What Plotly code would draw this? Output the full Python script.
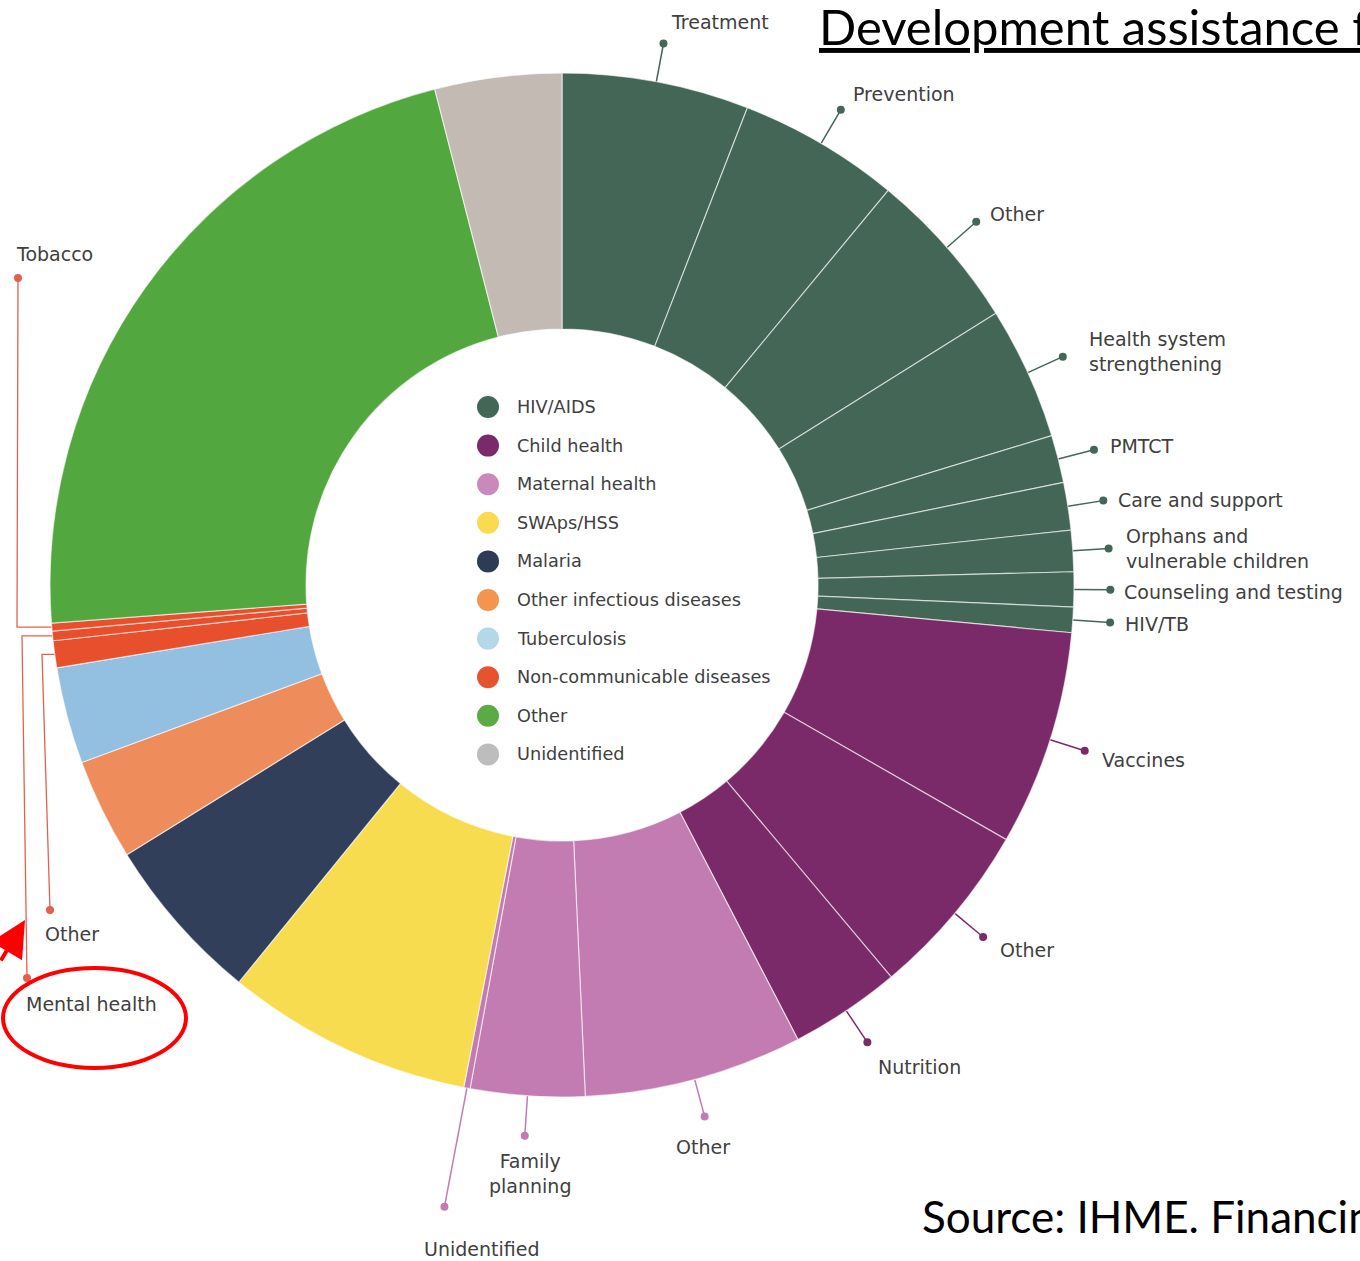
import math
import plotly.graph_objects as go

W, H = 1360, 1261

# Health focus areas (legend order)
areas = ["HIV/AIDS", "Child health", "Maternal health", "SWAps/HSS", "Malaria",
         "Other infectious diseases", "Tuberculosis", "Non-communicable diseases",
         "Other", "Unidentified"]
area_colors = ["#436657", "#7b2a69", "#c27cb1", "#f8dc50", "#313f5b",
               "#ef8c5c", "#93bfe1", "#e84f2d", "#53a73f", "#c3bab4"]
legend_colors = ["#436657", "#7b2a69", "#c98abb", "#fada4f", "#2e3b55",
                 "#f3954f", "#b3d8e8", "#e8532f", "#5bab45", "#bdbdbd"]

# Program areas, clockwise from 12 o'clock (share of total, %)
sub_labels = ["Treatment", "Prevention", "Other", "Health system<br>strengthening",
              "PMTCT", "Care and support", "Orphans and<br>vulnerable children",
              "Counseling and testing", "HIV/TB",
              "Vaccines", "Other", "Nutrition",
              "Other", "Family<br>planning", "Unidentified",
              "SWAps/HSS", "Malaria", "Other infectious diseases", "Tuberculosis",
              "Other", "Mental health", "Tobacco",
              "Other", "Unidentified"]
sub_area = [0] * 9 + [1] * 3 + [2] * 3 + [3, 4, 5, 6] + [7] * 3 + [8, 9]
sub_share = [5.9, 5.1, 5.1, 4.2, 1.5, 1.5, 1.3, 1.1, 0.8,
             6.8, 5.6, 3.5,
             6.9, 3.6, 0.2,
             7.8, 5.3, 3.2, 3.05,
             0.85, 0.3, 0.25,
             22.2, 4.0]

# Donut geometry in pixels (centre, outer radius)
CX, CY, R = 562, 585, 512
HOLE = 0.5

# Callouts: radial ones (dot radius in units of R, text offset from dot, anchor)
radial_callouts = {
    0: (1.076, 6, -22, "left"),
    1: (1.076, 10, -16, "left"),
    2: (1.076, 12, -8, "left"),
    3: (1.075, 24, -5, "left"),
    4: (1.072, 14, -4, "left"),
    5: (1.070, 13, -1, "left"),
    6: (1.070, 15, 0, "left"),
    7: (1.071, 12, 2, "left"),
    8: (1.073, 13, 2, "left"),
    9: (1.071, 15, 9, "left"),
    10: (1.072, 15, 13, "left"),
    11: (1.074, 9, 25, "left"),
    12: (1.075, -2, 30, "center"),
    13: (1.078, 5, 38, "center"),
    14: (1.236, 37, 42, "center"),
}
# Elbow callouts on the left: (elbow x, dot x, dot y, text dx, text dy)
elbow_callouts = {
    19: (42, 50, 910, -7, 24),
    20: (22, 27, 978, -3, 26),
    21: (17, 18, 278, -4, -24),
}

total = sum(sub_share)
cum = 0.0
mid_angle = []
for v in sub_share:
    mid_angle.append(360.0 * (cum + v / 2) / total)
    cum += v


def polar_px(theta_deg, r):
    t = math.radians(theta_deg)
    return CX + r * math.sin(t), CY - r * math.cos(t)


fig = go.Figure()

fig.add_trace(go.Pie(
    values=sub_share,
    labels=[f"{areas[a]} – {l}" for a, l in zip(sub_area, sub_labels)],
    marker=dict(colors=[area_colors[a] for a in sub_area],
                line=dict(color="rgba(255,255,255,0.6)", width=1.2)),
    sort=False, direction="clockwise", rotation=0, hole=HOLE,
    textinfo="none", hoverinfo="label+value", showlegend=False,
    domain=dict(x=[(CX - R) / W, (CX + R) / W], y=[(H - CY - R) / H, (H - CY + R) / H]),
))

label_font = dict(family="DejaVu Sans", size=19, color="#404040")
annotations = []

for i, (rd, tdx, tdy, anchor) in radial_callouts.items():
    col = area_colors[sub_area[i]]
    x0, y0 = polar_px(mid_angle[i], R)
    x1, y1 = polar_px(mid_angle[i], R * rd)
    fig.add_trace(go.Scatter(x=[x0, x1], y=[y0, y1], mode="lines",
                             line=dict(color=col, width=1.5), hoverinfo="skip",
                             showlegend=False))
    fig.add_trace(go.Scatter(x=[x1], y=[y1], mode="markers",
                             marker=dict(color=col, size=8), hoverinfo="skip",
                             showlegend=False))
    annotations.append(dict(x=x1 + tdx, y=y1 + tdy, xref="x", yref="y",
                            text=sub_labels[i], showarrow=False, xanchor=anchor,
                            yanchor="middle", align=anchor,
                            font=label_font))

for i, (ex, dx_, dy_, tdx, tdy) in elbow_callouts.items():
    col = "#e3604f"
    x0, y0 = polar_px(mid_angle[i], R)
    fig.add_trace(go.Scatter(x=[x0, ex, dx_], y=[y0, y0, dy_], mode="lines",
                             line=dict(color=col, width=1.3), hoverinfo="skip",
                             showlegend=False))
    fig.add_trace(go.Scatter(x=[dx_], y=[dy_], mode="markers",
                             marker=dict(color=col, size=8), hoverinfo="skip",
                             showlegend=False))
    annotations.append(dict(x=dx_ + tdx, y=dy_ + tdy, xref="x", yref="y",
                            text=sub_labels[i], showarrow=False, xanchor="left",
                            yanchor="middle", font=label_font))

# Legend inside the hole
LEG_X, LEG_Y0, LEG_STEP = 488, 407, 38.6
leg_y = [LEG_Y0 + k * LEG_STEP for k in range(len(areas))]
fig.add_trace(go.Scatter(x=[LEG_X] * len(areas), y=leg_y, mode="markers",
                         marker=dict(color=legend_colors, size=22),
                         hoverinfo="skip", showlegend=False))
for name, yy in zip(areas, leg_y):
    annotations.append(dict(x=LEG_X + 27, y=yy, xref="x", yref="y", text=name,
                            showarrow=False, xanchor="left", yanchor="middle",
                            font=dict(family="DejaVu Sans", size=17.7, color="#404040")))

# Title and source (both run past the right edge)
annotations.append(dict(x=817, y=26, xref="x", yref="y",
                        text="<u>Development assistance for health by focus area</u>",
                        showarrow=False, xanchor="left", yanchor="middle",
                        font=dict(family="Lato", size=49, color="#000000")))
annotations.append(dict(x=920, y=1216, xref="x", yref="y",
                        text="Source: IHME. Financing Global Health 2016",
                        showarrow=False, xanchor="left", yanchor="middle",
                        font=dict(family="Lato", size=44, color="#000000")))
# Highlight arrow
annotations.append(dict(x=25, y=920, xref="x", yref="y", ax=-30, ay=42, text="",
                        showarrow=True, arrowhead=2, arrowsize=1.8, arrowwidth=4,
                        arrowcolor="#ff0000"))

fig.update_layout(
    width=W, height=H, margin=dict(l=0, r=0, t=0, b=0),
    paper_bgcolor="white", plot_bgcolor="rgba(0,0,0,0)",
    xaxis=dict(range=[0, W], visible=False, fixedrange=True),
    yaxis=dict(range=[H, 0], visible=False, fixedrange=True),
    annotations=annotations,
    shapes=[dict(type="circle", xref="x", yref="y", x0=3, x1=186, y0=968, y1=1068,
                 line=dict(color="#ff0000", width=4))],
    showlegend=False,
)

fig.write_html("out.html")
